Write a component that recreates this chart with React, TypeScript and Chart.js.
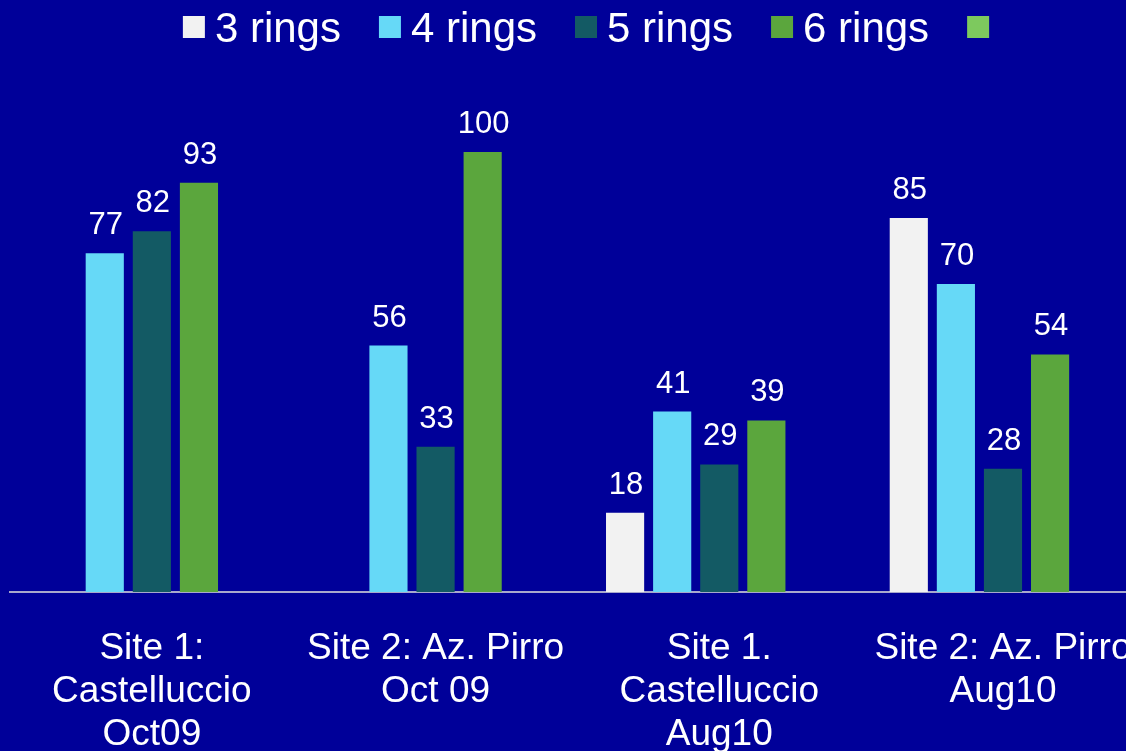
import React, { useEffect, useRef } from "react";
import { Chart, registerables } from "chart.js";

Chart.register(...registerables);

const categories: string[][] = [
  ["Site 1:", "Castelluccio", "Oct09"],
  ["Site 2: Az. Pirro", "Oct 09"],
  ["Site 1.", "Castelluccio", "Aug10"],
  ["Site 2: Az. Pirro", "Aug10"],
];

const seriesLabels = ["3 rings", "4 rings", "5 rings", "6 rings", ""];
const seriesColors = ["#F2F2F2", "#66D9F7", "#135A64", "#5BA63D", "#7DC95E"];

const rings3: (number | null)[] = [null, null, 18, 85];
const rings4: (number | null)[] = [77, 56, 41, 70];
const rings5: (number | null)[] = [82, 33, 29, 28];
const rings6: (number | null)[] = [93, 100, 39, 54];
const extra: (number | null)[] = [null, null, null, null];

const seriesValues = [rings3, rings4, rings5, rings6, extra];

const FONT = "'Liberation Sans', Arial, sans-serif";

const dataLabelPlugin = {
  id: "dataLabels",
  afterDatasetsDraw(chart: any) {
    const ctx = chart.ctx;
    ctx.save();
    ctx.font = `31px ${FONT}`;
    ctx.fillStyle = "#FFFFFF";
    ctx.textAlign = "center";
    ctx.textBaseline = "alphabetic";
    chart.data.datasets.forEach((ds: any, di: number) => {
      const meta = chart.getDatasetMeta(di);
      meta.data.forEach((bar: any, i: number) => {
        const v = ds.data[i];
        if (v === null || v === undefined) return;
        ctx.fillText(String(v), bar.x + 1, bar.y - 19);
      });
    });
    ctx.restore();
  },
};

const legendPlugin = {
  id: "customLegend",
  afterDraw(chart: any) {
    const ctx = chart.ctx;
    ctx.save();
    ctx.font = `42px ${FONT}`;
    const box = 22;
    const gapText = 10;
    const gapItem = 38;
    const items = chart.data.datasets.map((ds: any) => ({
      label: ds.label as string,
      color: ds.backgroundColor as string,
      w: box + gapText + ctx.measureText(ds.label).width,
    }));
    const total =
      items.reduce((s: number, it: any) => s + it.w, 0) + gapItem * (items.length - 1);
    let x = 591 - total / 2;
    ctx.textAlign = "left";
    ctx.textBaseline = "alphabetic";
    items.forEach((it: any) => {
      ctx.fillStyle = it.color;
      ctx.fillRect(x, 16, box, box);
      ctx.fillStyle = "#FFFFFF";
      ctx.fillText(it.label, x + box + gapText, 42);
      x += it.w + gapItem;
    });
    ctx.restore();
  },
};

export default function App() {
  const canvasRef = useRef<HTMLCanvasElement | null>(null);

  useEffect(() => {
    if (!canvasRef.current) return;
    const chart = new Chart(canvasRef.current, {
      type: "bar",
      data: {
        labels: categories,
        datasets: seriesLabels.map((label, i) => ({
          label,
          data: seriesValues[i],
          backgroundColor: seriesColors[i],
          borderWidth: 0,
          categoryPercentage: 0.83,
          barPercentage: 0.81,
        })),
      },
      options: {
        animation: false,
        responsive: true,
        maintainAspectRatio: false,
        layout: { padding: { left: 10, right: 4, top: 152, bottom: 4 } },
        plugins: {
          legend: { display: false },
          tooltip: { enabled: false },
          title: { display: false },
        },
        scales: {
          x: {
            grid: { display: false, drawTicks: false },
            border: { display: true, color: "#A8A8CC", width: 2 },
            ticks: {
              color: "#FFFFFF",
              font: { family: FONT, size: 37, lineHeight: "43px" },
              padding: 35,
              maxRotation: 0,
              minRotation: 0,
              autoSkip: false,
            },
          },
          y: {
            display: false,
            min: 0,
            max: 100,
          },
        },
      },
      plugins: [dataLabelPlugin, legendPlugin],
    });
    return () => chart.destroy();
  }, []);

  return (
    <div
      style={{
        position: "fixed",
        left: 0,
        top: 0,
        width: 1167,
        height: 795,
        background: "#000099",
      }}
    >
      <canvas ref={canvasRef} />
    </div>
  );
}
